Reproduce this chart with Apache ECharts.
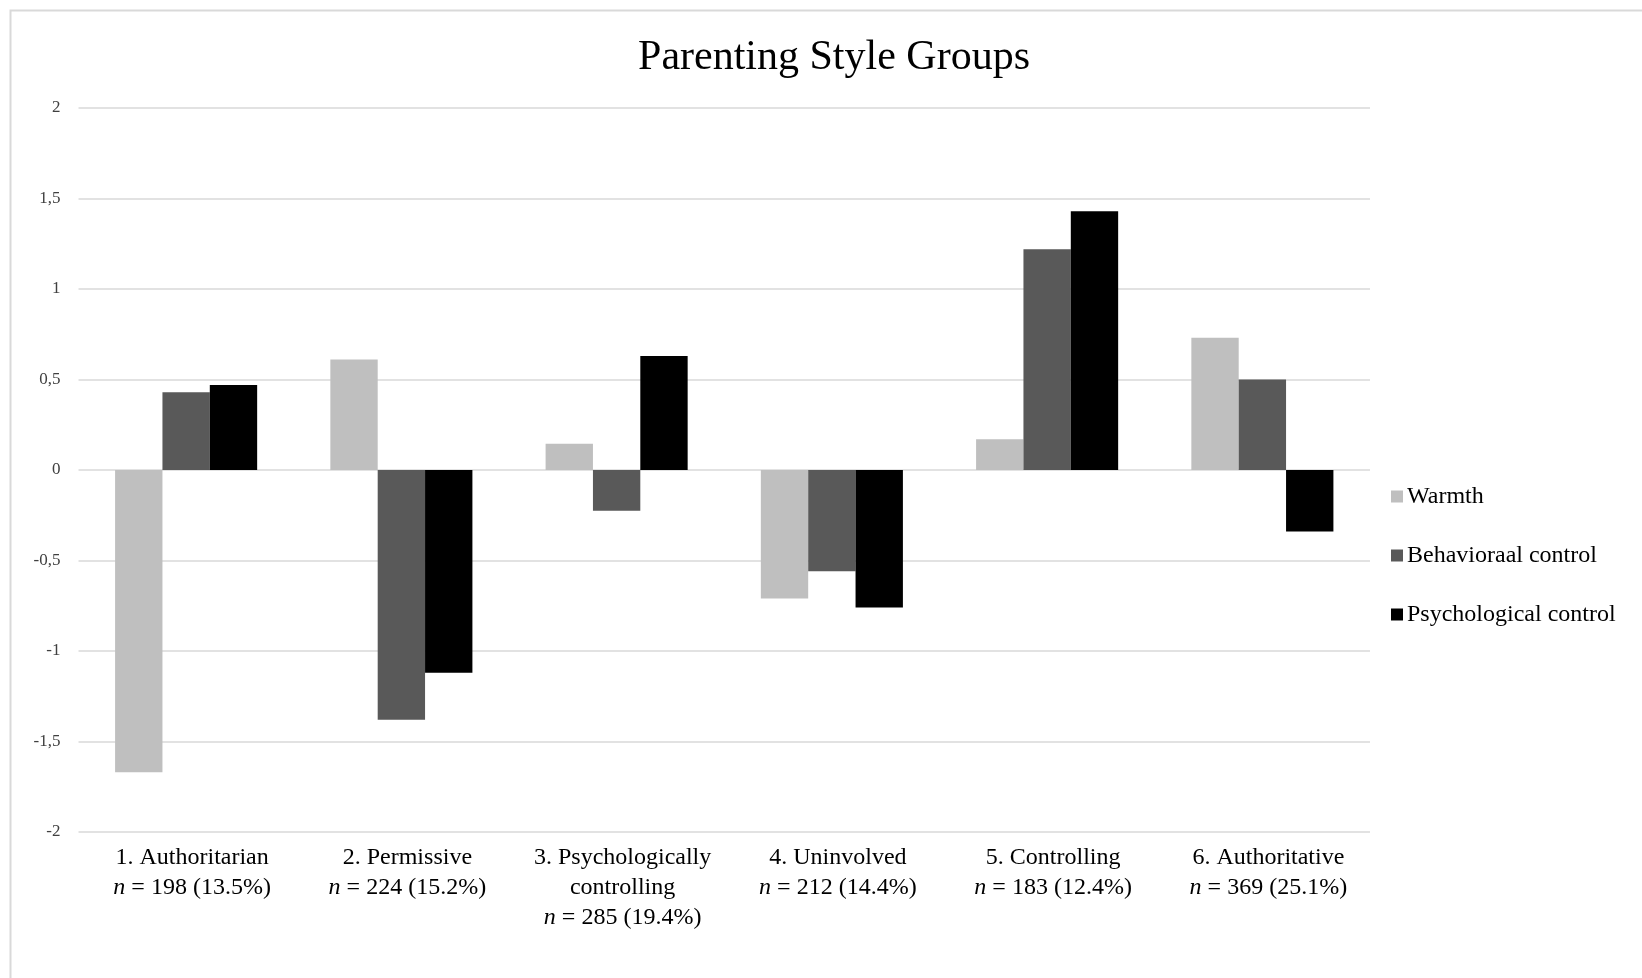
<!DOCTYPE html>
<html>
<head>
<meta charset="utf-8">
<script src="https://cdn.jsdelivr.net/npm/echarts@6/dist/echarts.min.js"></script>
<style>
html,body{margin:0;padding:0;background:#fff;}
#chart{width:1642px;height:978px;}
</style>
</head>
<body>
<div id="chart"></div>
<script>
const categories = ['1. Authoritarian', '2. Permissive', '3. Psychologically\ncontrolling', '4. Uninvolved', '5. Controlling', '6. Authoritative'];
const groupN = [198, 224, 285, 212, 183, 369];
const groupPct = ['13.5%', '15.2%', '19.4%', '14.4%', '12.4%', '25.1%'];
const seriesNames = ['Warmth', 'Behavioraal control', 'Psychological control'];
const warmth = [-1.67, 0.61, 0.145, -0.71, 0.17, 0.73];
const behavioralControl = [0.43, -1.38, -0.225, -0.56, 1.22, 0.50];
const psychologicalControl = [0.47, -1.12, 0.63, -0.76, 1.43, -0.34];
const yTicks = [-2, -1.5, -1, -0.5, 0, 0.5, 1, 1.5, 2];

const colors = ['#bfbfbf', '#595959', '#000000'];
const serif = '"Liberation Serif", "DejaVu Serif", serif';

const chart = echarts.init(document.getElementById('chart'));
const labelFor = {};
categories.forEach((c, i) => { labelFor[c] = c + '\n{i|n} = ' + groupN[i] + ' (' + groupPct[i] + ')'; });

chart.setOption({
  backgroundColor: '#fff',
  animation: false,
  graphic: [{
    type: 'rect',
    shape: { x: 10.5, y: 10.5, width: 1700, height: 1000 },
    style: { fill: 'none', stroke: '#d9d9d9', lineWidth: 2 },
    silent: true
  }],
  title: {
    text: 'Parenting Style Groups',
    left: 834,
    top: 37,
    textAlign: 'center',
    padding: 0,
    textStyle: { fontFamily: serif, fontSize: 42, fontWeight: 'normal', color: '#000' }
  },
  legend: {
    orient: 'vertical',
    left: 1386,
    top: 479,
    itemWidth: 12,
    itemHeight: 12,
    itemGap: 34,
    icon: 'rect',
    data: seriesNames,
    textStyle: { fontFamily: serif, fontSize: 24, color: '#000', lineHeight: 25, padding: [0, 0, 0, -1] }
  },
  grid: { left: 78.5, right: 272, top: 108, bottom: 146, containLabel: false },
  xAxis: {
    type: 'category',
    data: categories,
    axisLine: { show: false },
    axisTick: { show: false },
    axisLabel: {
      interval: 0,
      margin: 11,
      padding: [0, 0, 0, 12],
      fontFamily: serif,
      fontSize: 24,
      lineHeight: 30,
      color: '#000',
      formatter: v => labelFor[v],
      rich: { i: { fontFamily: serif, fontSize: 24, fontStyle: 'italic', lineHeight: 30, color: '#000' } }
    }
  },
  yAxis: {
    type: 'value',
    min: yTicks[0],
    max: yTicks[yTicks.length - 1],
    interval: 0.5,
    axisLine: { show: false },
    axisTick: { show: false },
    splitLine: { lineStyle: { color: '#d9d9d9', width: 1.5 } },
    axisLabel: {
      margin: 18,
      fontFamily: serif,
      fontSize: 17,
      color: '#404040',
      formatter: v => String(v).replace('.', ',')
    }
  },
  series: [
    { name: seriesNames[0], type: 'bar', data: warmth, itemStyle: { color: colors[0] }, barGap: '0%', barCategoryGap: '34%' },
    { name: seriesNames[1], type: 'bar', data: behavioralControl, itemStyle: { color: colors[1] }, barGap: '0%', barCategoryGap: '34%' },
    { name: seriesNames[2], type: 'bar', data: psychologicalControl, itemStyle: { color: colors[2] }, barGap: '0%', barCategoryGap: '34%' }
  ]
});
</script>
</body>
</html>
